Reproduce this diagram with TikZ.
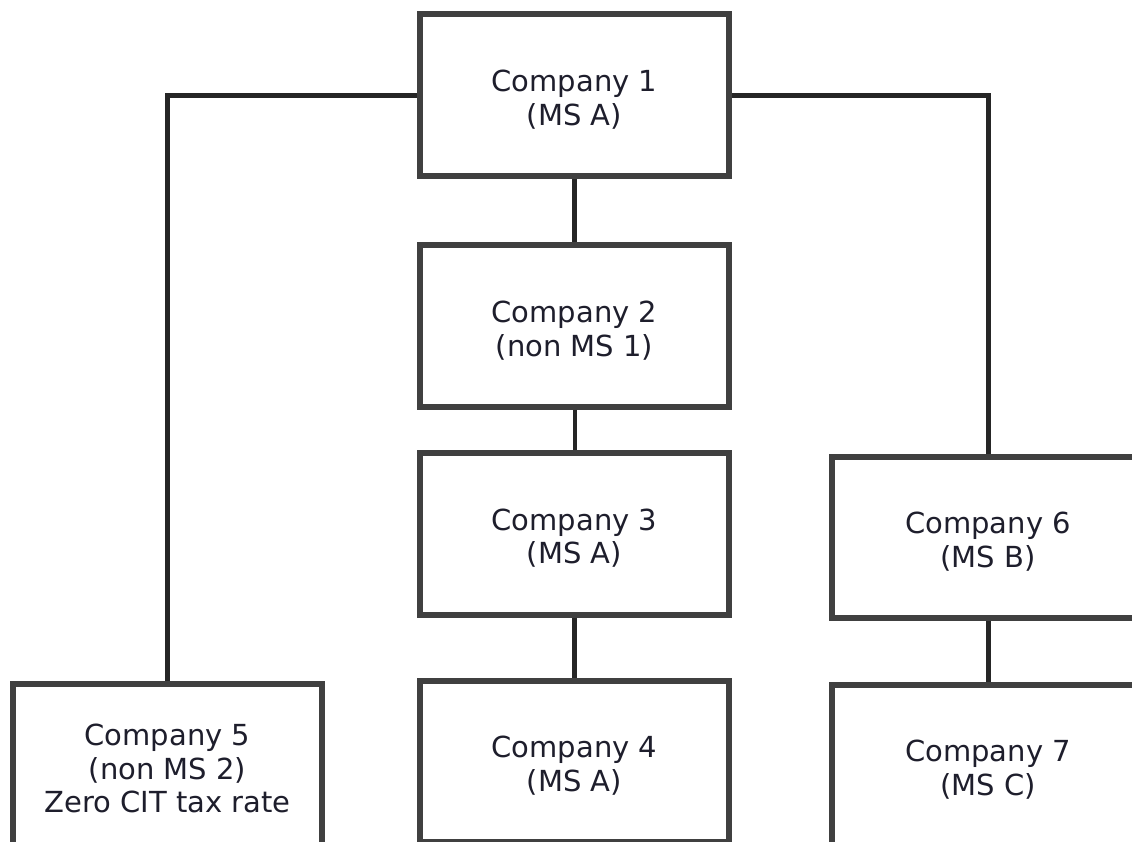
\documentclass[tikz,border=0pt]{standalone}
\usepackage{fontspec}
\setmainfont{DejaVu Sans}
\definecolor{boxgray}{HTML}{404040}
\definecolor{linkblack}{HTML}{262626}
\definecolor{textdark}{HTML}{1E1E2C}
% invisible strut that sets the text block slightly below the box centre
\newcommand\capgap{\rule{0pt}{30.5pt}}
\begin{document}
\begin{tikzpicture}[x=1pt,y=-1pt,
  company/.style={draw=boxgray, line width=6pt, fill=white,
    minimum width=309pt, minimum height=161.5pt, inner sep=0pt,
    align=center, text=textdark, font=\fontsize{29}{33.5}\selectfont},
  link/.style={draw=linkblack, line width=5pt}]
\useasboundingbox (0,0) rectangle (1132,842);
\clip (0,0) rectangle (1132,842);
\fill[white] (0,0) rectangle (1132,842);

% entities
\node[company] (c1) at (574.5,95.25)  {\capgap Company 1\\(MS A)};
\node[company] (c2) at (574.5,326)    {\capgap Company 2\\(non MS 1)};
\node[company] (c3) at (574.5,533.75) {\capgap Company 3\\(MS A)};
\node[company] (c4) at (574.5,761.25) {\capgap Company 4\\(MS A)};
\node[company] (c5) at (167.5,764.25) {\capgap Company 5\\(non MS 2)\\Zero CIT tax rate};
\node[company, minimum width=313pt] (c6) at (988,537.25) {\capgap Company 6\\(MS B)};
\node[company, minimum width=313pt] (c7) at (988,765.25) {\capgap Company 7\\(MS C)};

% ownership links
\draw[link] (c1.west) -| (c5.north);
\draw[link] (c1.east) -| (c6.north);
\draw[link] (c1.south) -- (c2.north);
\draw[link, line width=4pt] (c2.south) -- (c3.north);
\draw[link] (c3.south) -- (c4.north);
\draw[link] (c6.south) -- (c7.north);
\end{tikzpicture}
\end{document}
